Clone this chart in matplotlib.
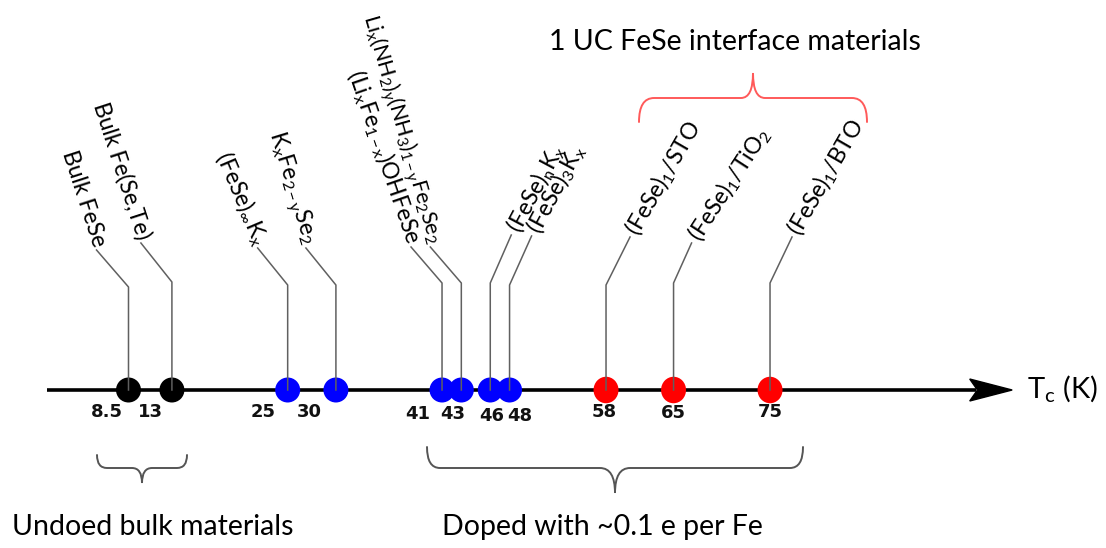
import matplotlib
matplotlib.use("Agg")
import matplotlib.pyplot as plt
from matplotlib.patches import Ellipse, Polygon, PathPatch
from matplotlib.path import Path

# ---------------- data ----------------
tc_values = [8.5, 13, 25, 30, 41, 43, 46, 48, 58, 65, 75]
tc_labels = ["8.5", "13", "25", "30", "41", "43", "46", "48", "58", "65", "75"]
materials = [
    "Bulk FeSe",
    "Bulk Fe(Se,Te)",
    r"(FeSe)$_\infty$K$_\mathrm{x}$",
    r"K$_\mathrm{x}$Fe$_\mathrm{2-y}$Se$_\mathrm{2}$",
    r"(Li$_\mathrm{x}$Fe$_\mathrm{1-x}$)OHFeSe",
    r"Li$_\mathrm{x}$(NH$_\mathrm{2}$)$_\mathrm{y}$(NH$_\mathrm{3}$)$_\mathrm{1-y}$Fe$_\mathrm{2}$Se$_\mathrm{2}$",
    r"(FeSe)$_\mathrm{n}$K$_\mathrm{x}$",
    r"(FeSe)$_\mathrm{3}$K$_\mathrm{x}$",
    r"(FeSe)$_\mathrm{1}$/STO",
    r"(FeSe)$_\mathrm{1}$/TiO$_\mathrm{2}$",
    r"(FeSe)$_\mathrm{1}$/BTO",
]
groups = ["bulk", "bulk", "doped", "doped", "doped", "doped", "doped", "doped",
          "interface", "interface", "interface"]
group_colors = {"bulk": "#000000", "doped": "#0000FF", "interface": "#FF0000"}
axis_label = r"T$_\mathrm{c}$ (K)"
top_note = "1 UC FeSe interface materials"
bottom_left_note = "Undoed bulk materials"
bottom_mid_note = "Doped with ~0.1 e per Fe"

# ---------------- layout (pixels) ----------------
W, H = 1106, 548
PXK = 9.647            # pixels per kelvin
AXIS_Y = 390
bend_y = [287, 282, 285, 285, 283, 283, 283, 285, 285, 283, 283]
lead_dx = [-32, -31, -30, -30, -31, -31, 21, 22, 24, 18, 22]
lead_dy = [-37, -39, -37, -37, -36, -36, -48, -49, -48, -40, -46]
rotations = [-72, -72, -67, -73, -71, -74, 62, 62, 60, 57, 60]
label_sizes = [16.5, 16.5, 16.5, 16.5, 16.5, 15.5, 16.5, 16.5, 16.5, 16.5, 16.5]
num_dx = [-22, -21, -25, -27, -24, -9, 1, 10, -2, 0, 0]
num_y = [412, 412, 412, 412, 414, 414, 416, 416, 412, 413, 412]

plt.rcParams["mathtext.fontset"] = "custom"
plt.rcParams["mathtext.rm"] = "Lato"
plt.rcParams["mathtext.it"] = "Lato:italic"
plt.rcParams["mathtext.bf"] = "Lato:bold"
plt.rcParams["font.family"] = ["Lato", "DejaVu Sans"]

fig = plt.figure(figsize=(W / 100, H / 100), dpi=100)
ax = fig.add_axes([0, 0, 1, 1])
X0 = 8.5 - 128.5 / PXK
ax.set_xlim(X0, X0 + W / PXK)
ax.set_ylim(H, 0)
ax.axis("off")


def px(xp):
    return X0 + xp / PXK


def dk(dpx):
    return dpx / PXK


# axis with arrow
ax.plot([0, 96.4], [AXIS_Y, AXIS_Y], color="black", lw=2.6,
        solid_capstyle="butt", zorder=2)
ax.add_patch(Polygon([(95.7, AXIS_Y - 11), (100.1, AXIS_Y), (95.7, AXIS_Y + 11),
                      (96.5, AXIS_Y)], closed=True, color="black", zorder=2))
ax.text(px(1027), AXIS_Y - 1, axis_label, fontsize=21, ha="left", va="center")

# dots
for tc, g in zip(tc_values, groups):
    h = 26.5 if g == "interface" else 25
    ax.add_patch(Ellipse((tc, AXIS_Y), width=dk(25), height=h,
                         color=group_colors[g], zorder=3, lw=0))

# leader lines and labels
for i, (tc, name) in enumerate(zip(tc_values, materials)):
    bx, by = tc, bend_y[i]
    ex, ey = tc + dk(lead_dx[i]), by + lead_dy[i]
    ax.plot([tc, bx, ex], [AXIS_Y, by, ey], color="#606060", lw=1.1, zorder=4)
    if lead_dx[i] < 0:
        ax.text(ex + dk(3), ey - 4, name, rotation=rotations[i],
                rotation_mode="anchor", ha="right", va="center",
                fontsize=label_sizes[i])
    else:
        ax.text(ex + dk(2), ey - 4, name, rotation=rotations[i],
                rotation_mode="anchor", ha="left", va="center",
                fontsize=label_sizes[i])
    ax.text(tc + dk(num_dx[i]), num_y[i], tc_labels[i], fontsize=13,
            fontweight="bold", family="DejaVu Sans", ha="center", va="center",
            color="#111111")


def brace(x0, x1, y_end, y_mid, y_tip, r_end, r_mid, color, lw):
    xc = (x0 + x1) / 2
    pts = [(x0, y_end), (x0, y_mid), (x0 + r_end, y_mid), (xc - r_mid, y_mid),
           (xc, y_mid), (xc, y_tip), (xc, y_mid), (xc + r_mid, y_mid),
           (x1 - r_end, y_mid), (x1, y_mid), (x1, y_end)]
    codes = [Path.MOVETO, Path.CURVE3, Path.CURVE3, Path.LINETO,
             Path.CURVE3, Path.CURVE3, Path.CURVE3, Path.CURVE3,
             Path.LINETO, Path.CURVE3, Path.CURVE3]
    verts = [(px(x), y) for x, y in pts]
    ax.add_patch(PathPatch(Path(verts, codes), fill=False, edgecolor=color,
                           lw=lw, capstyle="round"))


brace(97, 187, 455, 468, 483, 10, 10, "#555555", 1.4)
brace(427, 803, 447, 468, 493, 13, 15, "#555555", 1.4)
brace(639, 867, 122, 98, 73, 15, 12, "#FF5A5A", 1.4)

ax.text(px(735), 42, top_note, fontsize=20.5, ha="center", va="center")
ax.text(px(12), 527, bottom_left_note, fontsize=20.5, ha="left", va="center")
ax.text(px(602), 527, bottom_mid_note, fontsize=20.5, ha="center", va="center")

fig.savefig("out.png", dpi=100)
